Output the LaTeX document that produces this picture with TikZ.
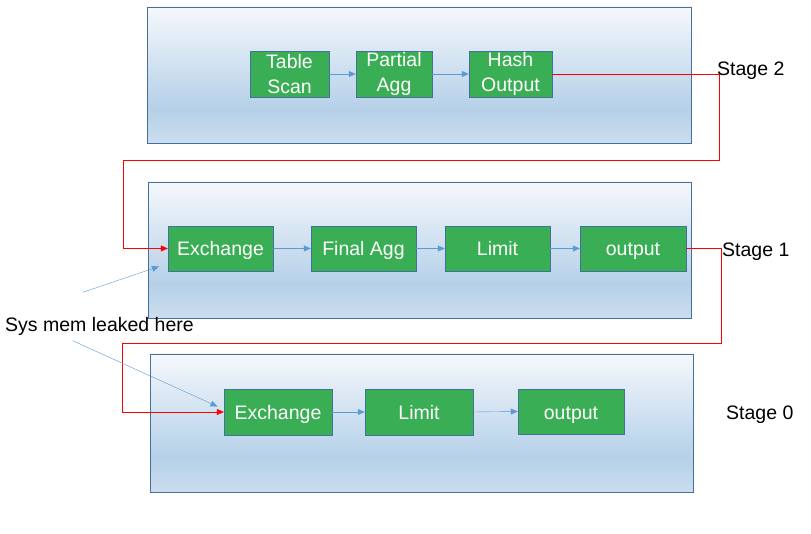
\documentclass[tikz,border=0pt]{standalone}
\usepackage{fontspec}
\setmainfont{Liberation Sans}
\usetikzlibrary{arrows.meta}
\definecolor{sttop}{HTML}{F5F8FC}
\definecolor{stmid}{HTML}{B5D0E8}
\definecolor{stbot}{HTML}{CCDDEE}
\definecolor{stline}{HTML}{41719C}
\definecolor{opfill}{RGB}{58,174,84}
\definecolor{flow}{HTML}{5B9BD5}
\pgfdeclareverticalshading{stageshade}{100bp}{color(0bp)=(stbot); color(25bp)=(stbot);
  color(37.5bp)=(stmid); color(75bp)=(sttop); color(100bp)=(sttop)}
\tikzset{
  stagebox/.style={draw=stline, shading=stageshade},
  op/.style={draw=stline, fill=opfill, text=white, minimum height=46pt,
    inner sep=0pt, font=\fontsize{19.5}{25}\selectfont, text height=16pt, text depth=1pt},
  optwo/.style={op, align=center, text height=, text depth=},
  flowarr/.style={flow, -{Triangle[length=7pt,width=6pt]}},
  feed/.style={red, -{Triangle[length=7pt,width=6pt]}},
  lbl/.style={anchor=base west, inner sep=0pt, font=\fontsize{19.5}{24}\selectfont}
}
\begin{document}
\begin{tikzpicture}[x=1pt,y=-1pt]
  \useasboundingbox (0,0) rectangle (811,534);
  % stages
  \draw[stagebox] (147,7) rectangle (691,143);
  \draw[stagebox] (148,182) rectangle (691,318);
  \draw[stagebox] (150,354) rectangle (693,492);
  % stage 2
  \node[optwo, minimum width=79pt] (ts) at (289.5,74) {Table\\Scan};
  \node[optwo, minimum width=76pt] (pa) at (394,74) {Partial\\Agg};
  \node[optwo, minimum width=83pt] (ho) at (510.5,74) {Hash\\Output};
  % stage 1
  \node[op, minimum width=105pt, minimum height=45pt] (ex1) at (220.5,248.5) {Exchange};
  \node[op, minimum width=105pt, minimum height=45pt] (fa1) at (363.5,248.5) {Final Agg};
  \node[op, minimum width=105pt, minimum height=45pt] (li1) at (497.5,248.5) {Limit};
  \node[op, minimum width=106pt, minimum height=45pt] (ou1) at (633,248.5) {output};
  % stage 0
  \node[op, minimum width=108pt] (ex0) at (278,412) {Exchange};
  \node[op, minimum width=108pt] (li0) at (419,412) {Limit};
  \node[op, minimum width=106pt, minimum height=45pt] (ou0) at (571,411.5) {output};
  \foreach \a/\b in {ts/pa,pa/ho,ex1/fa1,fa1/li1,li1/ou1,ex0/li0,li0/ou0}
    \draw[flowarr] (\a.east) -- (\b.west);
  % shuffles between stages
  \coordinate (r2) at (719,160);
  \coordinate (l2) at (123,160);
  \coordinate (r1) at (721,343);
  \coordinate (l1) at (122,343);
  \draw[feed] (ho.east) -| (r2) -- (l2) |- (ex1.west);
  \draw[feed] (ou1.east) -| (r1) -- (l1) |- (ex0.west);
  \node[lbl] (s2) at (717,76) {Stage 2};
  \node[lbl] (s1) at (722,256.5) {Stage 1};
  \node[lbl] (s0) at (726,419) {Stage 0};
  % leak note
  \node[lbl] (leak) at (5,331.5) {Sys mem leaked here};
  \coordinate (n1) at (82.7,292.3);
  \coordinate (h1) at (159,266.5);
  \coordinate (n2) at (72.7,340.7);
  \coordinate (h2) at (217.5,406.5);
  \draw[flowarr] (n1) -- (h1);
  \draw[flowarr] (n2) -- (h2);
\end{tikzpicture}
\end{document}
